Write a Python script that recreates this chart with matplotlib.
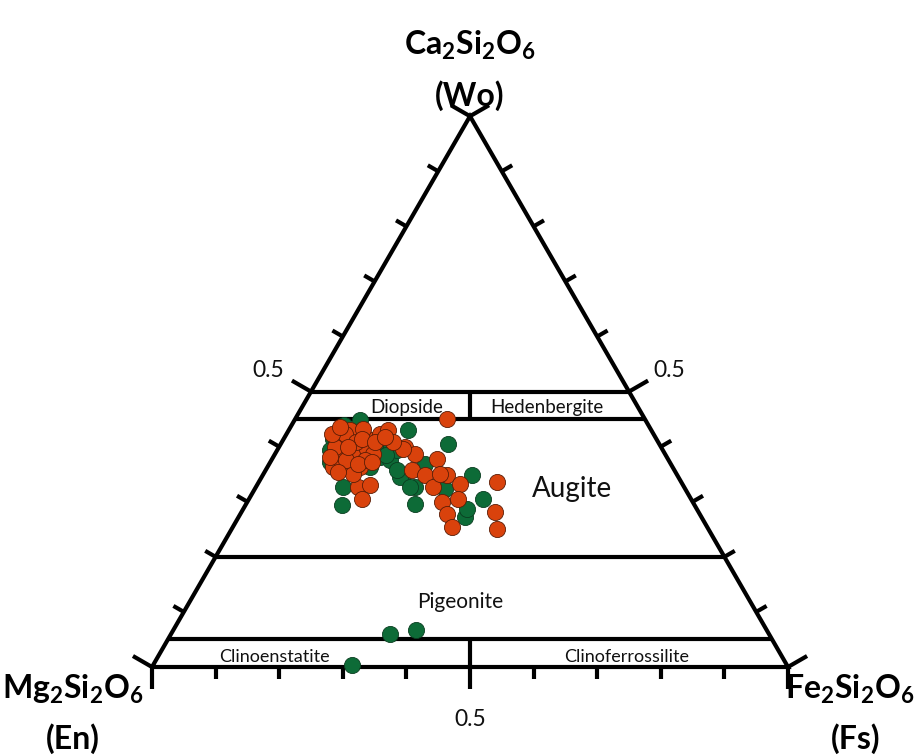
import numpy as np
import matplotlib
matplotlib.use("Agg")
import matplotlib.pyplot as plt

plt.rcParams["font.family"] = ["Lato", "DejaVu Sans"]
plt.rcParams["mathtext.fontset"] = "custom"
plt.rcParams["mathtext.rm"] = "Lato"
plt.rcParams["mathtext.bf"] = "Lato:bold"

# Pyroxene compositions (mole fractions Wo, Fs; En = 1 - Wo - Fs)
green_wo = [0.405, 0.430, 0.349, 0.305, 0.296, 0.327, 0.272, 0.287, 0.369, 0.349,
            0.323, 0.448, 0.414, 0.327, 0.294, 0.363, 0.381, 0.376, 0.394, 0.345,
            0.327, 0.394, 0.358, 0.399, 0.399, 0.372, 0.440, 0.384,
            0.060, 0.067, 0.004]
green_fs = [0.263, 0.187, 0.329, 0.368, 0.266, 0.250, 0.356, 0.352, 0.245, 0.220,
            0.299, 0.103, 0.078, 0.137, 0.152, 0.161, 0.168, 0.186, 0.188, 0.217,
            0.242, 0.083, 0.206, 0.167, 0.151, 0.094, 0.082, 0.176,
            0.344, 0.382, 0.313]

orange_wo = [0.450, 0.399, 0.387, 0.378, 0.358, 0.349, 0.349, 0.327, 0.332, 0.336,
             0.305, 0.300, 0.278, 0.281, 0.254, 0.251, 0.350, 0.421, 0.394, 0.363,
             0.363, 0.363, 0.412, 0.423, 0.430, 0.396, 0.327, 0.330, 0.305, 0.405,
             0.387, 0.396, 0.381, 0.430, 0.432, 0.387, 0.350, 0.423, 0.399, 0.376,
             0.408, 0.423, 0.436, 0.408, 0.376, 0.381, 0.414, 0.408, 0.399, 0.369,
             0.354, 0.372, 0.418]
orange_fs = [0.239, 0.198, 0.220, 0.259, 0.230, 0.255, 0.289, 0.278, 0.318, 0.375,
             0.329, 0.306, 0.325, 0.399, 0.345, 0.417, 0.278, 0.112, 0.103, 0.103,
             0.125, 0.145, 0.137, 0.147, 0.156, 0.197, 0.161, 0.178, 0.178, 0.093,
             0.123, 0.140, 0.100, 0.096, 0.116, 0.154, 0.141, 0.092, 0.088, 0.147,
             0.175, 0.072, 0.078, 0.117, 0.117, 0.089, 0.123, 0.147, 0.109, 0.140,
             0.115, 0.160, 0.158]

# Classification boundaries (Wo levels) and divider segments (En = Fs)
wo_levels = [0.5, 0.45, 0.2, 0.05]
divider_ranges = [(0.45, 0.5), (0.0, 0.05)]
tick_fracs = [i / 10 for i in range(11)]

H = np.sqrt(3) / 2


def tern(wo, fs):
    wo = np.asarray(wo, dtype=float)
    fs = np.asarray(fs, dtype=float)
    return fs + wo / 2, wo * H


fig = plt.figure(figsize=(9.16, 7.55), dpi=100)
ax = fig.add_axes([0, 0, 1, 1])
ax.set_xlim(-152 / 636, 764 / 636)
ax.set_ylim(-88 / 636, 667 / 636)
ax.set_aspect("equal")
ax.axis("off")

LW = 3.0
lkw = dict(color="black", lw=LW, solid_capstyle="butt", zorder=2)

# Triangle outline
vx, vy = tern([0, 0, 1, 0], [0, 1, 0, 0])
ax.plot(vx, vy, solid_joinstyle="miter", **lkw)

# Horizontal field boundaries
for w in wo_levels:
    x, y = tern([w, w], [0, 1 - w])
    ax.plot(x, y, **lkw)

# Vertical dividers at En = Fs
for lo, hi in divider_ranges:
    x, y = tern([lo, hi], [(1 - lo) / 2, (1 - hi) / 2])
    ax.plot(x, y, **lkw)

# Ticks on the three edges
short_t, long_t = 12 / 636, 22 / 636
for f in tick_fracs:
    ln = long_t if abs(f - 0.5) < 1e-9 or f in (0.0, 1.0) else short_t
    # bottom edge (Fs)
    x0, y0 = tern(0, f)
    ax.plot([x0, x0], [y0, y0 - ln], **lkw)
    # left edge (Wo, En side)
    x0, y0 = tern(f, 0)
    ax.plot([x0, x0 - ln * H], [y0, y0 + ln * 0.5], **lkw)
    # right edge (Wo, Fs side)
    x0, y0 = tern(f, 1 - f)
    ax.plot([x0, x0 + ln * H], [y0, y0 + ln * 0.5], **lkw)

# Data points
ms = 135
gx, gy = tern(green_wo, green_fs)
ax.scatter(gx, gy, s=ms, c="#0d6b37", edgecolors="#0a3d20", linewidths=0.6, zorder=3)
ox, oy = tern(orange_wo, orange_fs)
ax.scatter(ox, oy, s=ms, c="#d9420c", edgecolors="#5a1d06", linewidths=0.6, zorder=4)

# Field names
fkw = dict(ha="center", va="baseline", zorder=5, color="#111111")
ax.text(0.401, 0.399, "Diopside", fontsize=13.5, **fkw)
ax.text(0.621, 0.399, "Hedenbergite", fontsize=13.5, **fkw)
ax.text(0.660, 0.267, "Augite", fontsize=20, **fkw)
ax.text(0.485, 0.093, "Pigeonite", fontsize=15, **fkw)
ax.text(0.193, 0.008, "Clinoenstatite", fontsize=13, **fkw)
ax.text(0.747, 0.008, "Clinoferrossilite", fontsize=13, **fkw)

# 0.5 tick labels
tkw = dict(ha="center", va="baseline", fontsize=16.5, color="#111111")
ax.text(0.183, 0.456, "0.5", **tkw)
ax.text(0.814, 0.456, "0.5", **tkw)
ax.text(0.5, -0.093, "0.5", **tkw)

# End-member labels
bkw = dict(va="center", fontsize=23, fontweight="bold")
ax.text(0.5, 0.978, r"$\mathbf{Ca_2Si_2O_6}$", ha="center", **bkw)
ax.text(0.5, 0.898, "(Wo)", ha="center", **bkw)
ax.text(-0.124, -0.036, r"$\mathbf{Mg_2Si_2O_6}$", ha="center", **bkw)
ax.text(-0.124, -0.112, "(En)", ha="center", **bkw)
ax.text(1.199, -0.036, r"$\mathbf{Fe_2Si_2O_6}$", ha="right", **bkw)
ax.text(1.107, -0.112, "(Fs)", ha="center", **bkw)

fig.savefig("out.png", dpi=100, facecolor="white")
